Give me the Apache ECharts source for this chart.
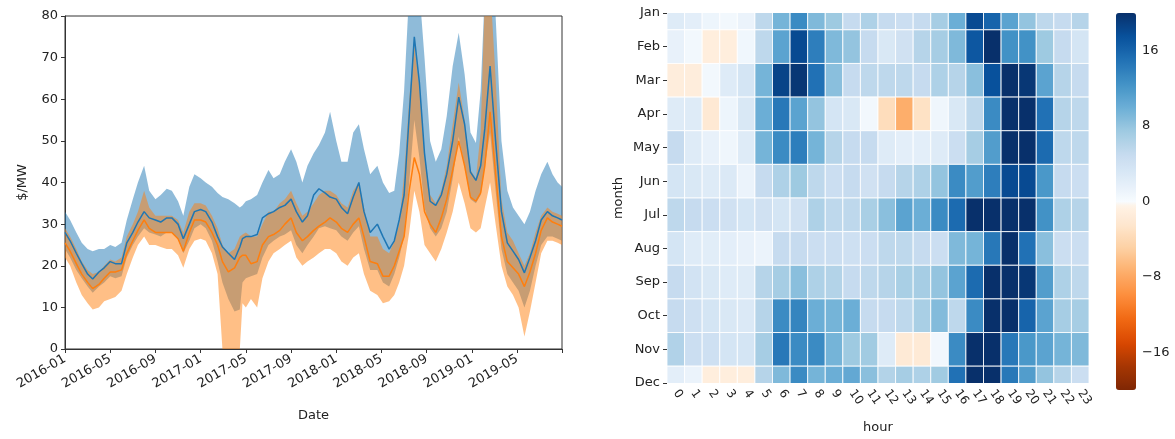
<!DOCTYPE html>
<html><head><meta charset="utf-8">
<script src="https://cdn.jsdelivr.net/npm/echarts@6/dist/echarts.min.js"></script>
<style>html,body{margin:0;padding:0;background:#fff}#c{width:1175px;height:439px}</style>
</head><body><div id="c"></div>
<script>
// ---------- left chart data ----------
const dates = ['2016-01-01','2016-01-15','2016-02-01','2016-02-15','2016-03-01','2016-03-15','2016-04-01','2016-04-15','2016-05-01','2016-05-15','2016-06-01','2016-06-15','2016-07-01','2016-07-15','2016-08-01','2016-08-15','2016-09-01','2016-09-15','2016-10-01','2016-10-15','2016-11-01','2016-11-15','2016-12-01','2016-12-15','2017-01-01','2017-01-15','2017-02-01','2017-02-15','2017-02-27','2017-03-15','2017-04-01','2017-04-15','2017-04-22','2017-05-01','2017-05-15','2017-06-01','2017-06-15','2017-07-01','2017-07-15','2017-08-01','2017-08-15','2017-09-01','2017-09-15','2017-10-01','2017-10-15','2017-11-01','2017-11-15','2017-12-01','2017-12-15','2018-01-01','2018-01-15','2018-02-01','2018-02-15','2018-03-01','2018-03-15','2018-04-01','2018-04-20','2018-05-05','2018-05-22','2018-06-05','2018-06-18','2018-07-01','2018-07-15','2018-07-29','2018-08-12','2018-08-26','2018-09-10','2018-09-25','2018-10-10','2018-10-25','2018-11-10','2018-11-26','2018-12-12','2018-12-28','2019-01-12','2019-01-25','2019-02-05','2019-02-18','2019-03-04','2019-03-20','2019-04-05','2019-04-20','2019-05-05','2019-05-21','2019-06-05','2019-06-20','2019-07-05','2019-07-22','2019-08-05','2019-08-19','2019-08-31'];
const blueMean = [28,26,23,20.5,18,16.8,18.5,19.5,21,20.5,20.5,25.5,28,30.5,33,31.5,31,30.5,31.5,31.5,30,26.5,30,33,33.5,33,30.5,27,24.5,23,21.5,24.5,26.5,27,27,27.5,31.5,32.5,33,34,34.5,36,33,30.5,32,37,38.5,37.5,36.5,36,34,32.5,36.5,40,33,28,30,27,24,26,31,37,56,75,64,47,35.5,34.5,37,42,50,60.5,54,42.5,40.5,44,53,68,50,33,25.5,23.5,21.5,18.3,22,26,31,33,32,31.5,31];
const blueLow = [24,22,19,17,15,13.5,15,16,17.5,17,17.5,22,25,27,29,28,27.5,27,28,28,26.5,23,26,29,30,29,26,21,16,12,9,9.5,16,17,17.5,18,22,25,26,27,27.5,28.5,25,23,25,27,29,29.5,29,28.5,27,26,28,29.5,24,19,19,16,15,18,22,27,40,55,46,34,29,27,29,33,41,51,44,36,35,37,44,52,38,24,18,16,14,10,14,20,25,27,27,26.5,26];
const blueHigh = [33,31,28,25.5,24,23.5,24,24,25,24.5,25.5,31,36,40,44,38,36,37,38.5,38,35.5,32,39,42,41,40,39,37.5,36.5,36,35,34,34.5,35.5,36,37,40,43,41,42,45,48,45,40,44,47,49,52,57,50,45,45,52,54,48,42,44,40,37.5,38,47,62,86,88,86,70,50,45,48,56,68,76,66,52,49.5,62,86,88,80,50,38,34,32,30,33,38,42,45,42,40,39];
const orangeMean = [25.5,23.5,20.5,18,16,14.5,15.5,17,18.5,18.5,19,23,26,28.5,31,29,28,28,28,28,26.5,23.5,28,31,31,30.5,28,25,21,18.5,19.5,22,22.5,22.5,20.5,21,25,27,27.5,28.5,30,31.5,28,26,27,28.5,29.5,30.5,31.5,30.5,29,28,30,31.5,27,21,20.5,17.5,17.5,20,23.5,27,38,46,42,33,30,28,31.5,36,43,50,44,36.5,35.5,37.5,44,57,42,27,21,19.5,18,15,18.5,23,28.5,31.5,30.5,30,29.5];
const orangeLow = [22,20,16,13,11,9.5,10,11.5,12,12.5,14,18,22,25,27,25,25,24.5,24,24,22.5,19.5,24,26,26.5,26,23,18,0,0,0,0,11,10,12,10,17,21,23,24,25,26,22,20,21,22,23,24,24,23,21,20,22,23,18,14,13,11,11.5,13,16,20,28,38,33,25,23,21,24,28,33,40,35,29,28,29,34,40,30,20,15,13,10,3,9,16,23,26,26,25.5,25];
const orangeHigh = [29,27,24,21,19,18,18.5,20,21.5,21,22,27,30,33,38,34,32,32,32,32,31,28,33,35,35,34.5,32,29,25,23,24,27,27.5,28,27,27,30,33,33,35,36,38,35,32,33,35,37,38,38,37,35,34,38,40,34,27,27,24,23,26,30,42,60,73,63,47,37,35,38,44,54,64,55,43,41,52,85,88,65,36,28,26,23,20,23,28,32,34,33,32.5,32];
const xTickLabels = ['2016-01','2016-05','2016-09','2017-01','2017-05','2017-09','2018-01','2018-05','2018-09','2019-01','2019-05'];

// ---------- heatmap data ----------
const months = ['Jan','Feb','Mar','Apr','May','Jun','Jul','Aug','Sep','Oct','Nov','Dec'];
const hours = ['0','1','2','3','4','5','6','7','8','9','10','11','12','13','14','15','16','17','18','19','20','21','22','23'];
const heatJan = [2.5,2,1,0.5,1.2,5.5,9.5,13,9,7.5,5,6.5,5,4.5,5,7,10,18,16,11,8,5.5,5,6];
const heatFeb = [1.5,0.5,-1.2,-1.2,0.7,5.5,11,18,14,9,8,5,3,4,6,7,9,17,20,12.5,12.5,7.5,5,3.5];
const heatMar = [-1.3,-1.3,0.5,2.5,3.5,9.5,18.5,19.5,15,8.5,5,5.5,5.5,5.5,5,6.5,6,8.5,17.5,21,19.5,11,6,5];
const heatApr = [2.5,2.5,-2,1,3,10,14.5,11,8,3.5,3,0.5,-3.5,-7.5,-3,0.8,3,5.5,13,21,20,15,6,5.5];
const heatMay = [5,2.5,1.5,0.8,2.5,9.5,13,14,9.5,6,5,5,2.5,2,2,2.5,4.5,7,11.5,21,20.5,15.5,5.5,5.5];
const heatJun = [3.5,3,2.5,2.8,1.2,5,6.5,7.5,5.5,4.5,5,4,5,6,6.5,8,13,11.5,14,18,18,12,5,4.5];
const heatJul = [5.5,5,4.5,4,3.5,4,3.5,4,6.5,5.5,5.5,6.8,8.5,11,10,13,15.5,20,21,21,20.5,12.5,6.5,6];
const heatAug = [3.5,2.5,2.2,2,1.5,1.2,5,5,4.5,4.5,4.2,4.5,5.5,5.5,5,4.5,9,9.5,14.5,20,15,8.5,4.5,4.5];
const heatSep = [5,3.8,3,2.5,2.5,6,7,8.5,6.5,6.2,5,5.5,6,6.8,7,8,11,15.5,20.5,20.5,19.5,11.5,6.5,5.5];
const heatOct = [5,4.2,3.5,3,2.8,6,13,13.5,10,9.5,10,5,5,5.5,6.8,8.8,5.5,13,20.5,20.5,16,11,7,7];
const heatNov = [6.3,4.5,4.2,3.5,3.5,7,14.5,13,13,9.5,7.5,7.3,2.5,-1.8,-1.8,0.6,13,21,20,14.5,12,11,9.5,9];
const heatDec = [2,1.2,-1.2,-1.2,-1.2,6,9,13,9.5,10,10.5,8.5,6.2,7,6.5,7.3,15,21,20,14.5,11.5,8,6,4.5];
const heatRows = [heatJan,heatFeb,heatMar,heatApr,heatMay,heatJun,heatJul,heatAug,heatSep,heatOct,heatNov,heatDec];
const cbarTicks = [16, 8, 0, -8, -16];

// ---------- helpers ----------
function toMonths(d) {
  const [y, m, dd] = d.split('-').map(Number);
  const dim = new Date(y, m, 0).getDate();
  return (y - 2016) * 12 + (m - 1) + (dd - 1) / dim;
}
const xs = dates.map(toMonths);
const pairs = arr => arr.map((v, i) => [xs[i], v]);

const orAnch = ['#7f2704','#a63603','#d94801','#f16913','#fd8d3c','#fdae6b','#fdd0a2','#fee6ce','#fff5eb'];
const blAnch = ['#f7fbff','#deebf7','#c6dbef','#9ecae1','#6baed6','#4292c6','#2171b5','#08519c','#08306b'];
function hex2rgb(h){return [1,3,5].map(i=>parseInt(h.substr(i,2),16));}
function interp(anch, t){
  const p = t*(anch.length-1); const i = Math.min(Math.floor(p), anch.length-2); const f = p - i;
  const a = hex2rgb(anch[i]), b = hex2rgb(anch[i+1]);
  return 'rgb(' + a.map((v,k)=>Math.round(v+(b[k]-v)*f)).join(',') + ')';
}
function cmap(v){ return v < 0 ? interp(orAnch, (v+20)/20) : interp(blAnch, v/20); }
const cmapColors = [];
for (let i = 0; i <= 80; i++) cmapColors.push(cmap(-20 + i*0.5));

const heatData = [];
heatRows.forEach((row, r) => row.forEach((v, c) => heatData.push([c, r, v])));

const FONT = 'DejaVu Sans';
const TXT = '#222';

function bandSeries(name, lo, hi, color) {
  return {
    name, type:'custom', xAxisIndex:0, yAxisIndex:0, clip:true, silent:true,
    data: [[xs[0], lo[0]]],
    renderItem: (params, api) => {
      const top = xs.map((x, i) => api.coord([x, hi[i]]));
      const bot = xs.map((x, i) => api.coord([x, lo[i]])).reverse();
      return {type:'polygon', shape:{points: top.concat(bot)}, style:{fill: color}};
    }
  };
}

const series = [
  bandSeries('blueBand', blueLow, blueHigh, 'rgba(31,119,180,0.5)'),
  {name:'blueMean', type:'line', data: pairs(blueMean), symbol:'none', lineStyle:{color:'#1f77b4', width:1.5}, itemStyle:{color:'#1f77b4'}, xAxisIndex:0, yAxisIndex:0},
  bandSeries('orangeBand', orangeLow, orangeHigh, 'rgba(255,127,14,0.5)'),
  {name:'orangeMean', type:'line', data: pairs(orangeMean), symbol:'none', lineStyle:{color:'#ff7f0e', width:1.5}, itemStyle:{color:'#ff7f0e'}, xAxisIndex:0, yAxisIndex:0},
  {name:'heat', type:'custom', xAxisIndex:1, yAxisIndex:1, clip:true, data: heatData,
   renderItem: (params, api) => {
     const c = api.coord([api.value(0), api.value(1)]);
     const s = api.size([1, 1]);
     return {type:'rect', shape:{x:c[0]-s[0]/2, y:c[1]-s[1]/2, width:s[0], height:s[1]},
             style:{fill: api.visual('color'), stroke:'rgba(255,255,255,0.85)', lineWidth:1}};
   }},
  {name:'cbar', type:'line', xAxisIndex:2, yAxisIndex:2, data:[], silent:true}
];
const heatIndex = series.findIndex(s => s.name === 'heat');

const chart = echarts.init(document.getElementById('c'), null, {renderer:'canvas'});
chart.setOption({
  animation: false,
  textStyle: {fontFamily: FONT},
  grid: [
    {left: 65, right: 613, top: 16, bottom: 90, show: true, borderColor: '#333', borderWidth: 1},
    {left: 667, right: 86, top: 13, bottom: 49},
    {left: 1116, width: 20, top: 13, bottom: 49}
  ],
  xAxis: [
    {type:'value', gridIndex:0, min:0, max:43.97, interval:4,
     axisLine:{show:true, lineStyle:{color:'#333'}}, axisTick:{show:true, length:4, lineStyle:{color:'#333'}},
     splitLine:{show:false},
     axisLabel:{rotate:30, fontSize:13, color:TXT, margin:9, formatter: v => xTickLabels[Math.round(v/4)] || ''},
     name:'Date', nameLocation:'middle', nameGap:60, nameTextStyle:{fontSize:13, color:TXT}},
    {type:'category', gridIndex:1, data: hours,
     axisLine:{show:false}, axisTick:{show:true, alignWithLabel:true, length:4, lineStyle:{color:'#333'}},
     axisLabel:{rotate:-55, fontSize:12, color:TXT, interval:0, margin:8},
     name:'hour', nameLocation:'middle', nameGap:38, nameTextStyle:{fontSize:13, color:TXT}},
    {type:'value', gridIndex:2, min:0, max:1, show:false}
  ],
  yAxis: [
    {type:'value', gridIndex:0, min:0, max:80, interval:10,
     axisLine:{show:true, lineStyle:{color:'#333'}}, axisTick:{show:true, length:4, lineStyle:{color:'#333'}},
     splitLine:{show:false}, axisLabel:{fontSize:13, color:TXT, margin:7},
     name:'$/MW', nameLocation:'middle', nameGap:36, nameRotate:90, nameTextStyle:{fontSize:13, color:TXT}},
    {type:'value', gridIndex:1, min:0, max:11, interval:1, inverse:true,
     axisLine:{show:false}, axisTick:{show:true, length:4, lineStyle:{color:'#333'}},
     splitLine:{show:false}, axisLabel:{fontSize:13, color:TXT, margin:7, formatter: v => months[v] || ''},
     name:'month', nameLocation:'middle', nameGap:42, nameRotate:90, nameTextStyle:{fontSize:13, color:TXT}},
    {type:'value', gridIndex:2, min:-20, max:20, position:'right',
     axisLine:{show:false}, splitLine:{show:false},
     axisTick:{show:true, length:4, customValues: cbarTicks, lineStyle:{color:'#333'}},
     axisLabel:{fontSize:13, color:TXT, margin:6, customValues: cbarTicks, formatter: v => v < 0 ? '\u2212' + (-v) : String(v)}}
  ],
  visualMap: {
    type:'continuous', seriesIndex: heatIndex, dimension: 2, min:-20, max:20,
    inRange:{color: cmapColors}, calculable:false, left:1116, top:13, itemWidth:20, itemHeight:377,
    padding:0, orient:'vertical', hoverLink:false
  },
  series
});
</script></body></html>
